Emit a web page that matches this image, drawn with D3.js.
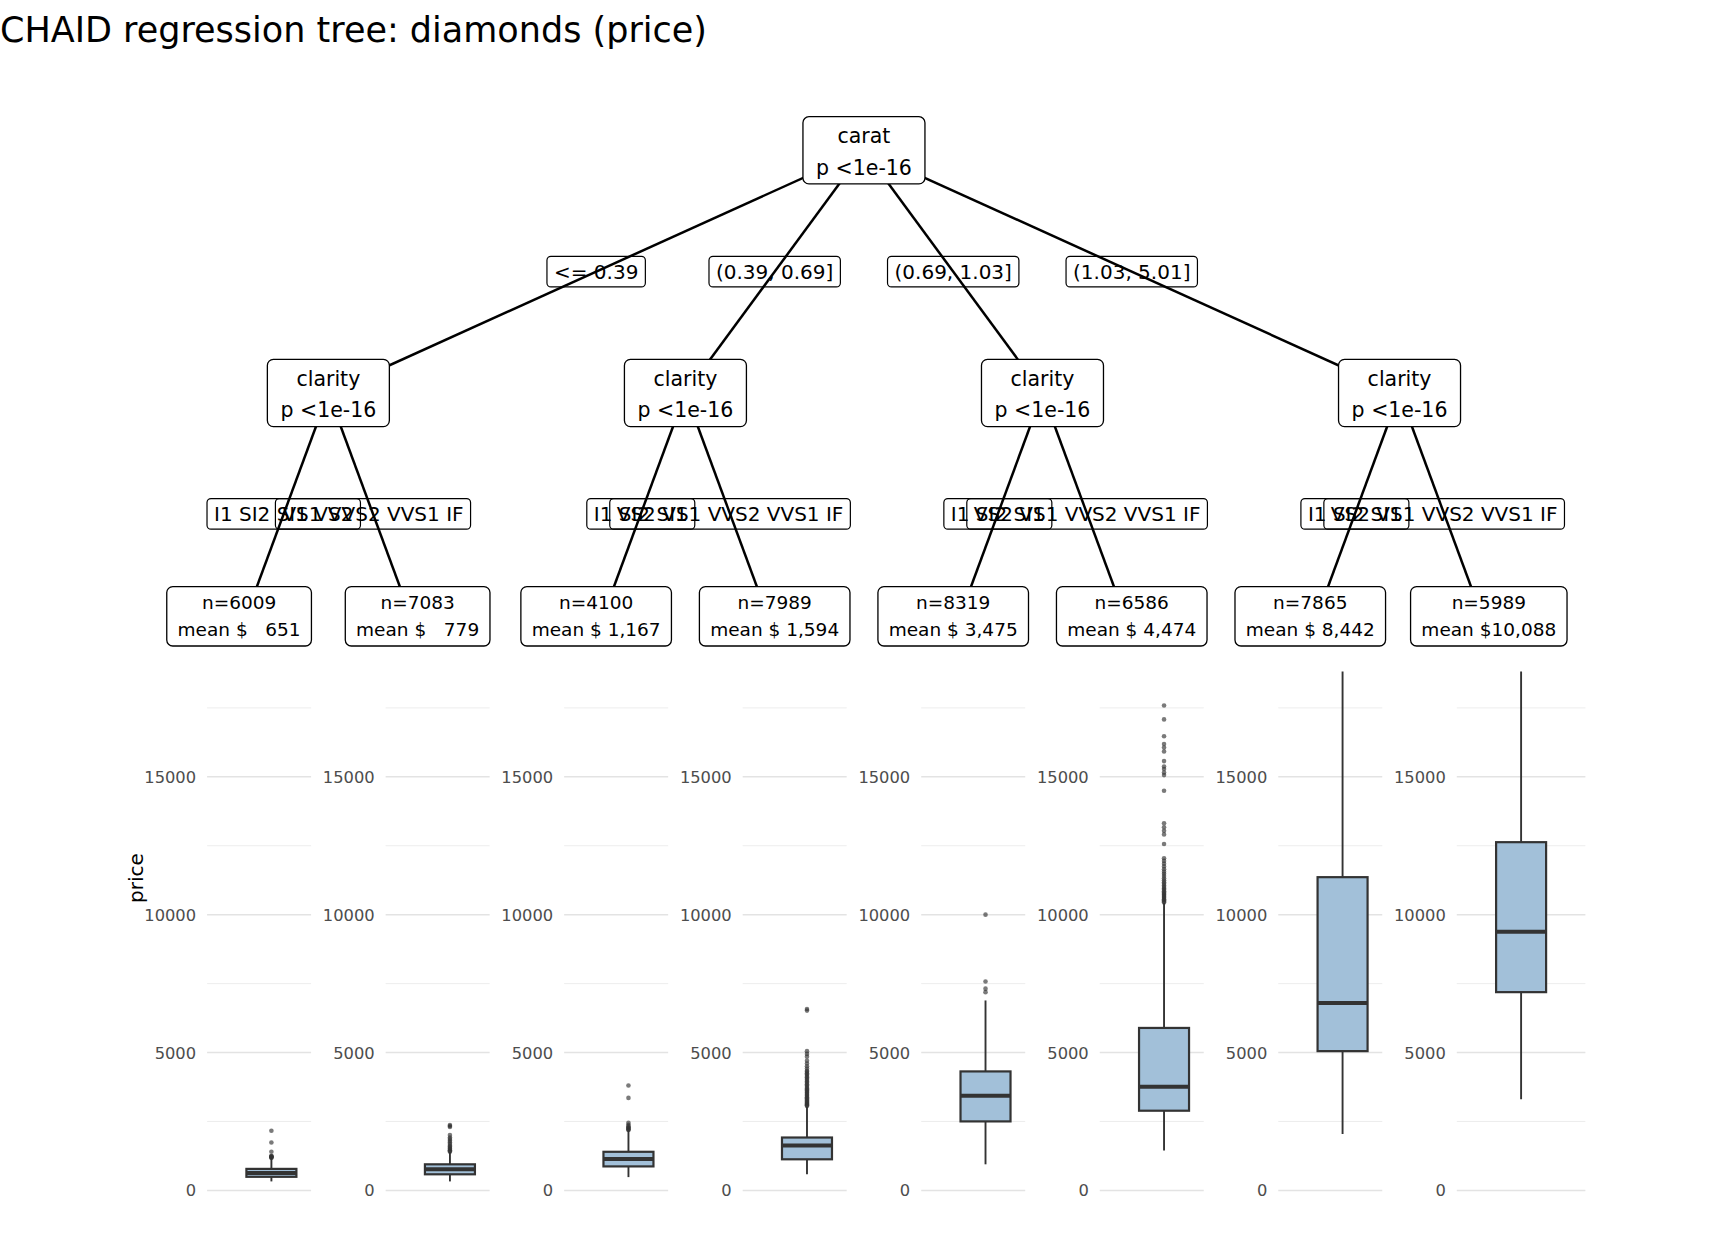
<!DOCTYPE html>
<html><head><meta charset="utf-8">
<script src="https://cdn.jsdelivr.net/npm/d3@7"></script>
<style>body{margin:0;background:#fff} svg{display:block} text{font-family:"DejaVu Sans",sans-serif}</style>
</head><body><svg id="c" width="1728" height="1248"></svg>
<script>
// ---------- data ----------
const title = "CHAID regression tree: diamonds (price)";
const rootVar = "carat";
const pText = "p <1e-16";
const midVars = ["clarity", "clarity", "clarity", "clarity"];
const caratSplits = ["<= 0.39", "(0.39, 0.69]", "(0.69, 1.03]", "(1.03, 5.01]"];
const claritySplits = [
  ["I1 SI2 SI1 VS2", "VS1 VVS2 VVS1 IF"],
  ["I1 SI2 SI1", "VS2 VS1 VVS2 VVS1 IF"],
  ["I1 SI2 SI1", "VS2 VS1 VVS2 VVS1 IF"],
  ["I1 SI2 SI1", "VS2 VS1 VVS2 VVS1 IF"]
];
const leafN = [6009, 7083, 4100, 7989, 8319, 6586, 7865, 5989];
const leafMean = [651, 779, 1167, 1594, 3475, 4474, 8442, 10088];
const boxLow = [326, 326, 482, 584, 946, 1450, 2049, 3303];
const boxQ1 = [493, 584, 870, 1128, 2502, 2890, 5051, 7190];
const boxMed = [635, 765, 1142, 1632, 3434, 3756, 6798, 9376];
const boxQ3 = [780, 946, 1400, 1918, 4315, 5892, 11360, 12629];
const boxHigh = [1167, 1389, 2170, 3046, 6889, 10424, 18818, 18818];
const outliers = [
  [1180, 1195, 1210, 1225, 1240, 1250, 1400, 1737, 2165],
  [1400, 1430, 1460, 1500, 1540, 1580, 1620, 1680, 1740, 1800, 1860, 1920, 2009, 2300, 2335, 2370],
  [2190, 2210, 2230, 2260, 2290, 2330, 2380, 2450, 3354, 3807],
  [3060, 3090, 3120, 3150, 3190, 3220, 3260, 3300, 3340, 3380, 3420, 3460, 3500, 3540, 3580, 3620,
   3660, 3700, 3750, 3800, 3850, 3900, 3950, 4000, 4050, 4100, 4150, 4200, 4250, 4300, 4340, 4420,
   4500, 4600, 4700, 4850, 4950, 5050, 6520, 6580],
  [7190, 7317, 7578, 10000],
  [10440, 10480, 10520, 10560, 10600, 10640, 10680, 10720, 10760, 10800, 10850, 10900, 10950, 11000,
   11060, 11120, 11180, 11250, 11320, 11400, 11480, 11560, 11650, 11750, 11850, 11950, 12045,
   12563, 12911, 13042, 13173, 13314, 14493, 15062, 15152, 15283, 15374, 15570, 15917, 16059,
   16190, 16473, 17081, 17585],
  [],
  []
];
const yTicks = [0, 5000, 10000, 15000];
const yMinor = [2500, 7500, 12500, 17500];
const yTitle = "price";

// ---------- layout ----------
const svg = d3.select("#c");
const nLeaf = leafN.length;
const xLeaf = d3.scaleLinear().domain([0, nLeaf - 1]).range([239.1, 1488.8]);
const y = d3.scaleLinear().domain([0, 15000]).range([1190.4, 776.8]);
const rootY = 150.3, midY = 393, leafY = 634.8;
const midX = d3.range(4).map(i => (xLeaf(2 * i) + xLeaf(2 * i + 1)) / 2);
const rootX = d3.mean(midX);

// title
svg.append("text").attr("x", 0).attr("y", 42).attr("font-size", 35).attr("fill", "#000").text(title);

// ---------- edges ----------
const gEdges = svg.append("g").attr("stroke", "#000").attr("stroke-width", 2.5);
midX.forEach((mx, i) => {
  gEdges.append("line").attr("x1", rootX).attr("y1", rootY).attr("x2", mx).attr("y2", midY);
  [0, 1].forEach(k => {
    gEdges.append("line").attr("x1", mx).attr("y1", midY).attr("x2", xLeaf(2 * i + k)).attr("y2", leafY);
  });
});

// ---------- edge labels ----------
const gLab = svg.append("g");
function edgeLabel(cx, cy, txt) {
  const g = gLab.append("g");
  const t = g.append("text").attr("x", cx).attr("y", cy + 7).attr("text-anchor", "middle")
    .attr("font-size", 20).attr("fill", "#000").attr("xml:space", "preserve").text(txt);
  const w = t.node().getComputedTextLength() + 14;
  g.insert("rect", "text").attr("x", cx - w / 2).attr("y", cy - 15.3).attr("width", w).attr("height", 30.6)
    .attr("rx", 4).attr("fill", "none").attr("stroke", "#000").attr("stroke-width", 1.2);
}
midX.forEach((mx, i) => {
  edgeLabel((rootX + mx) / 2, (rootY + midY) / 2, caratSplits[i]);
  [0, 1].forEach(k => {
    edgeLabel((mx + xLeaf(2 * i + k)) / 2, (midY + leafY) / 2, claritySplits[i][k]);
  });
});

// ---------- inner nodes ----------
function innerNode(cx, cy, l1) {
  const g = svg.append("g");
  g.append("rect").attr("x", cx - 61).attr("y", cy - 33.6).attr("width", 122).attr("height", 67.2)
    .attr("rx", 6).attr("fill", "#fff").attr("stroke", "#000").attr("stroke-width", 1.3);
  g.append("text").attr("x", cx).attr("y", cy - 7.5).attr("text-anchor", "middle").attr("font-size", 20.5).text(l1);
  g.append("text").attr("x", cx).attr("y", cy + 24.3).attr("text-anchor", "middle").attr("font-size", 20.5).text(pText);
}
innerNode(rootX, rootY, rootVar);
midX.forEach((mx, i) => innerNode(mx, midY, midVars[i]));

// ---------- leaf nodes ----------
const fmt = d3.format(",");
leafN.forEach((n, i) => {
  const cx = xLeaf(i), cy = leafY - 18.5;
  const g = svg.append("g");
  const t1 = g.append("text").attr("x", cx).attr("y", cy - 7.3).attr("text-anchor", "middle")
    .attr("font-size", 18.5).text("n=" + n);
  const t2 = g.append("text").attr("x", cx).attr("y", cy + 19.7).attr("text-anchor", "middle")
    .attr("font-size", 18.5).attr("xml:space", "preserve").style("white-space", "pre")
    .text("mean $" + fmt(leafMean[i]).padStart(6));
  const w = Math.max(t1.node().getComputedTextLength(), t2.node().getComputedTextLength()) + 21.6;
  g.insert("rect", "text").attr("x", cx - w / 2).attr("y", cy - 29.7).attr("width", w).attr("height", 59.4)
    .attr("rx", 6).attr("fill", "#fff").attr("stroke", "#000").attr("stroke-width", 1.3);
});

// ---------- box plot panels ----------
leafN.forEach((n, i) => {
  const x0 = xLeaf(i) - 32;
  const pw = i === nLeaf - 1 ? 128.6 : 104;
  const bx = xLeaf(i) + 32.3;
  const bw = 50;
  const g = svg.append("g");
  g.selectAll(".mn").data(yMinor).join("line")
    .attr("x1", x0).attr("x2", x0 + pw).attr("y1", d => y(d)).attr("y2", d => y(d))
    .attr("stroke", "#ebebeb").attr("stroke-width", 0.9);
  g.selectAll(".mj").data(yTicks).join("line")
    .attr("x1", x0).attr("x2", x0 + pw).attr("y1", d => y(d)).attr("y2", d => y(d))
    .attr("stroke", "#e3e3e3").attr("stroke-width", 1.5);
  g.selectAll(".tk").data(yTicks).join("text")
    .attr("x", x0 - 11).attr("y", d => y(d) + 6).attr("text-anchor", "end")
    .attr("font-size", 16.3).attr("fill", "#4d4d4d").text(d => d);
  // whisker
  g.append("line").attr("x1", bx).attr("x2", bx).attr("y1", y(boxLow[i])).attr("y2", y(boxHigh[i]))
    .attr("stroke", "#333").attr("stroke-width", 1.9);
  // box
  g.append("rect").attr("x", bx - bw / 2).attr("y", y(boxQ3[i])).attr("width", bw)
    .attr("height", y(boxQ1[i]) - y(boxQ3[i]))
    .attr("fill", "rgb(162,192,217)").attr("stroke", "#333").attr("stroke-width", 2.2);
  g.append("line").attr("x1", bx - bw / 2).attr("x2", bx + bw / 2).attr("y1", y(boxMed[i])).attr("y2", y(boxMed[i]))
    .attr("stroke", "#333").attr("stroke-width", 4);
  g.selectAll("circle").data(outliers[i]).join("circle")
    .attr("cx", bx).attr("cy", d => y(d)).attr("r", 2.3)
    .attr("fill", "#333").attr("fill-opacity", 0.65);
});

// y title
svg.append("text").attr("transform", `translate(143,878) rotate(-90)`).attr("text-anchor", "middle")
  .attr("font-size", 20).attr("fill", "#000").text(yTitle);
</script></body></html>
